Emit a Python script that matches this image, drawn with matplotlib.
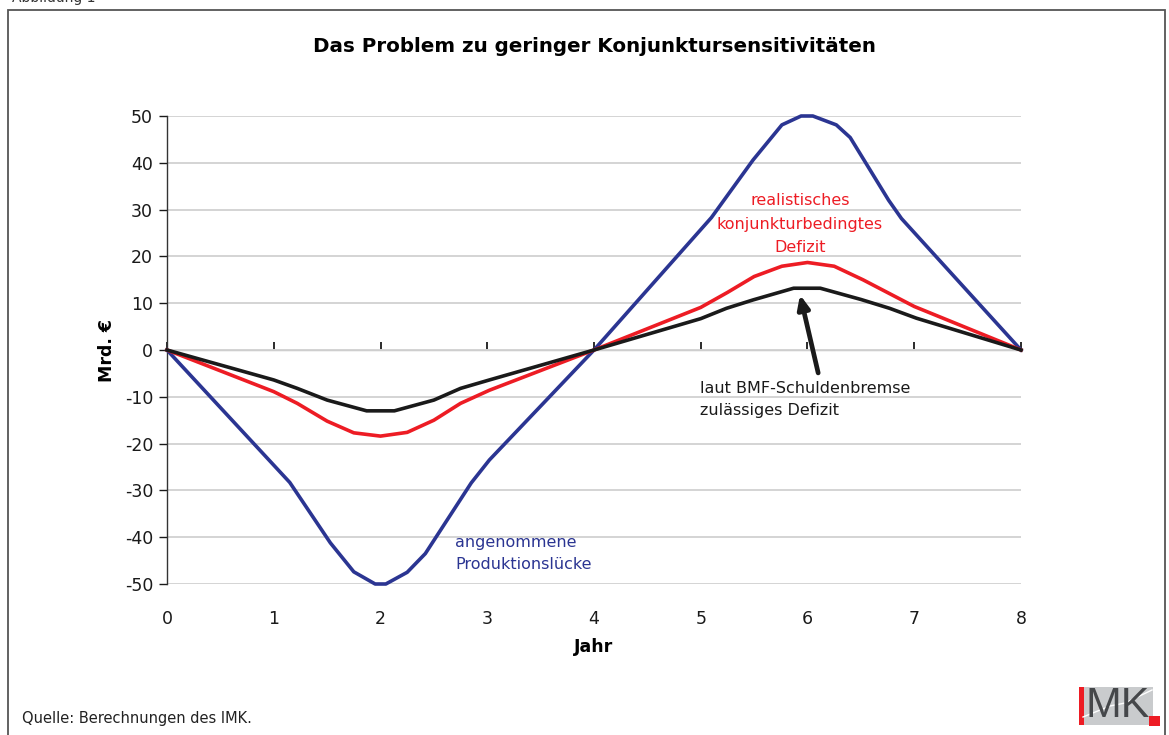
import matplotlib
matplotlib.use("Agg")
import matplotlib.pyplot as plt
from matplotlib.patches import Rectangle
from matplotlib.lines import Line2D

plt.rcParams['font.family'] = ['DejaVu Sans']
plt.rcParams['axes.unicode_minus'] = False

# Data
blue_x = [0, 1.15, 1.53, 1.75, 1.95, 2.05, 2.25, 2.42, 2.85, 3.02, 4,
          5.1, 5.49, 5.76, 5.94, 6.05, 6.27, 6.4, 6.76, 6.88, 8]
blue_y = [0, -28.3, -41.2, -47.4, -50, -50, -47.5, -43.5, -28.4, -23.5, 0,
          28.3, 40.6, 48.1, 50, 50, 48.1, 45.4, 32, 28.1, 0]

red_x = [0, 1.0, 1.22, 1.5, 1.75, 2.0, 2.25, 2.5, 2.75, 3.02, 4,
         5.0, 5.25, 5.5, 5.76, 6.0, 6.25, 6.52, 7.0, 8]
red_y = [0, -8.9, -11.4, -15.2, -17.7, -18.4, -17.6, -15.0, -11.4, -8.6, 0,
         9.1, 12.3, 15.7, 17.9, 18.7, 17.9, 15.0, 9.3, 0]

black_x = [0, 1.0, 1.22, 1.5, 1.87, 2.13, 2.5, 2.75, 3.02, 4,
           5.0, 5.24, 5.49, 5.87, 6.12, 6.5, 6.77, 7.02, 8]
black_y = [0, -6.4, -8.2, -10.7, -13.0, -13.0, -10.7, -8.2, -6.4, 0,
           6.7, 8.9, 10.7, 13.2, 13.2, 10.8, 8.9, 6.8, 0]

x_ticks = [0, 1, 2, 3, 4, 5, 6, 7, 8]
y_ticks = [-50, -40, -30, -20, -10, 0, 10, 20, 30, 40, 50]

title = "Das Problem zu geringer Konjunktursensitivitäten"
xlabel = "Jahr"
ylabel = "Mrd. €"
label_red = "realistisches\nkonjunkturbedingtes\nDefizit"
label_black = "laut BMF-Schuldenbremse\nzulässiges Defizit"
label_blue = "angenommene\nProduktionslücke"
source = "Quelle: Berechnungen des IMK."

BLUE = "#2b3592"
RED = "#ed1c24"
BLACK = "#1a1a1a"

W, H = 1169, 735
fig = plt.figure(figsize=(W / 100, H / 100), dpi=100)
fig.patch.set_facecolor("white")

# frame
fig.patches.append(Rectangle((8 / W, -0.05), (1165 - 8) / W, 1.05 - 10.5 / H,
                             transform=fig.transFigure, fill=False,
                             edgecolor="#555555", linewidth=1.3, clip_on=False))

fig.text(12 / W, 1 - 2 / H, "Abbildung 1", fontsize=10, color="#333333",
         ha="left", va="baseline")

left, right, bottom, top = 167 / W, 1021 / W, 1 - 584 / H, 1 - 116 / H
ax = fig.add_axes([left, bottom, right - left, top - bottom])
ax.set_xlim(0, 8)
ax.set_ylim(-50, 50)

ax.set_yticks(y_ticks)
ax.yaxis.grid(True, color="#d4d4d4", linewidth=1.4)
ax.set_axisbelow(True)
ax.tick_params(axis="y", direction="out", length=6, width=1, labelsize=12.5,
               pad=4, colors=BLACK)
for s in ["top", "right", "bottom"]:
    ax.spines[s].set_visible(False)
ax.spines["left"].set_linewidth(1.0)
ax.spines["left"].set_color("#333333")

ax.set_xticks(x_ticks)
ax.tick_params(axis="x", length=0, labelsize=12.5, pad=18.5, colors=BLACK)

# zero line axis with ticks
sec = ax.secondary_xaxis(0.5)
sec.set_xticks(x_ticks)
sec.set_xticklabels([])
sec.tick_params(axis="x", direction="out", length=6, width=1.3, color=BLACK)
sec.spines["bottom"].set_linewidth(2.0)
sec.spines["bottom"].set_color(BLACK)

ax.plot(blue_x, blue_y, color=BLUE, linewidth=2.6, clip_on=False, zorder=3,
        solid_joinstyle="round")
ax.plot(red_x, red_y, color=RED, linewidth=2.6, clip_on=False, zorder=4,
        solid_joinstyle="round")
ax.plot(black_x, black_y, color=BLACK, linewidth=2.6, clip_on=False, zorder=5,
        solid_joinstyle="round")

ax.set_title(title, fontsize=14.3, fontweight="bold", pad=0, y=1.0)
ax.title.set_position((0.5, 1 + (116 - 47) / (584 - 116)))
ax.title.set_va("center")

ax.set_xlabel(xlabel, fontsize=12.5, fontweight="bold", labelpad=7.5)
ax.set_ylabel(ylabel, fontsize=12.5, fontweight="bold", labelpad=6)

ax.text(5.93, 26.9, label_red, color=RED, fontsize=11.5, ha="center",
        va="center", linespacing=1.7)
ax.text(4.99, -10.6, label_black, color=BLACK, fontsize=11.5, ha="left",
        va="center", linespacing=1.6)
ax.text(2.70, -43.5, label_blue, color=BLUE, fontsize=11.5, ha="left",
        va="center", linespacing=1.6)

ax.annotate("", xy=(5.93, 11.8), xytext=(6.1, -4.9),
            arrowprops=dict(arrowstyle="-|>,head_length=0.8,head_width=0.35",
                            color=BLACK, lw=3.4, shrinkA=0, shrinkB=0),
            zorder=6)

fig.text(22 / W, 1 - 718 / H, source, fontsize=10.5, color="#222222",
         ha="left", va="center")

# IMK logo
fig.patches.append(Rectangle((1083 / W, 1 - 725 / H), 70 / W, 38 / H,
                             transform=fig.transFigure, facecolor="#c9cbcd",
                             edgecolor="none"))
fig.patches.append(Rectangle((1079 / W, 1 - 725 / H), 4.5 / W, 38 / H,
                             transform=fig.transFigure, facecolor=RED,
                             edgecolor="none"))
fig.lines.append(Line2D([1083 / W, 1110 / W, 1125 / W, 1152 / W],
                        [1 - 717 / H, 1 - 706 / H, 1 - 703 / H, 1 - 690 / H],
                        transform=fig.transFigure, color="white", linewidth=1.0))
fig.text(1118 / W, 1 - 706 / H, "MK", fontsize=31, color="#45474a",
         ha="center", va="center", family="Liberation Sans")
fig.patches.append(Rectangle((1149 / W, 1 - 726 / H), 11 / W, 10.5 / H,
                             transform=fig.transFigure, facecolor=RED,
                             edgecolor="none"))

fig.savefig("out.png", dpi=100, facecolor="white")
